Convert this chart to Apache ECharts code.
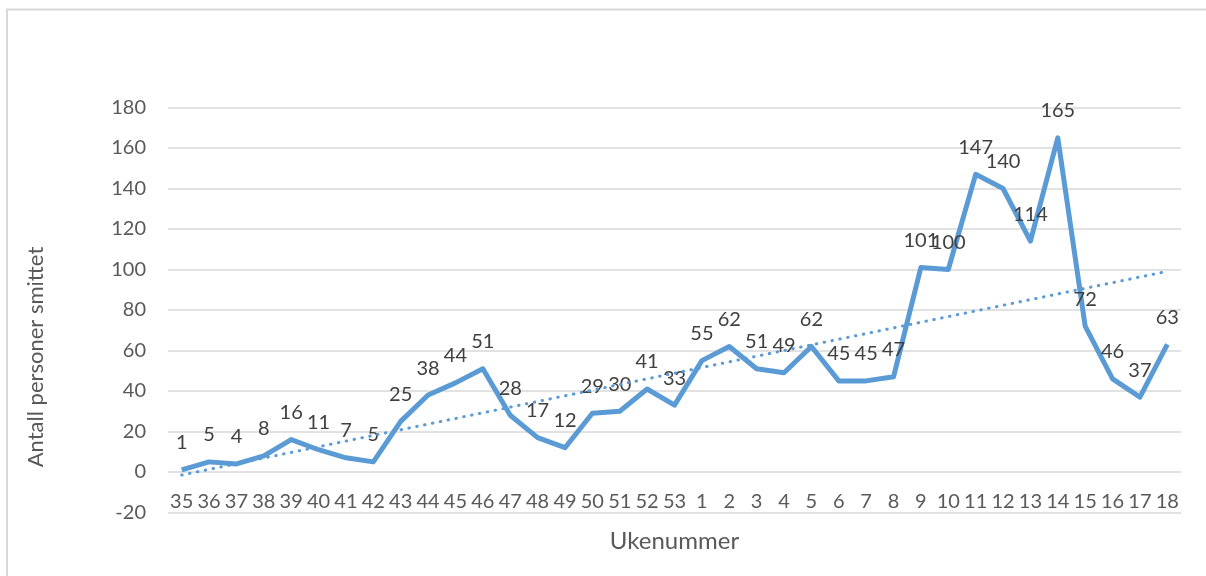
<!DOCTYPE html>
<html>
<head>
<meta charset="utf-8">
<script src="https://cdn.jsdelivr.net/npm/echarts@6/dist/echarts.min.js"></script>
<style>
  html, body { margin: 0; padding: 0; background: #fff; }
  #chart { width: 1206px; height: 576px; }
</style>
</head>
<body>
<div id="chart"></div>
<script>
// Week numbers (categories)
const weeks = ['35','36','37','38','39','40','41','42','43','44','45','46','47','48','49','50','51','52','53',
               '1','2','3','4','5','6','7','8','9','10','11','12','13','14','15','16','17','18'];
// Number of infected persons per week
const infected = [1,5,4,8,16,11,7,5,25,38,44,51,28,17,12,29,30,41,33,
                  55,62,51,49,62,45,45,47,101,100,147,140,114,165,72,46,37,63];
// Linear trendline end values (first and last week)
const trendStart = -1.5;
const trendEnd = 99.1;
// Y axis ticks
const yMin = -20, yMax = 180, yStep = 20;

const trend = weeks.map((w, i) => i === 0 ? trendStart : (i === weeks.length - 1 ? trendEnd : null));

const font = 'Lato, "Open Sans", sans-serif';
const chart = echarts.init(document.getElementById('chart'), null, { renderer: 'canvas' });
chart.setOption({
  animation: false,
  backgroundColor: '#ffffff',
  grid: { left: 168, right: 25, top: 107.5, bottom: 63.5, containLabel: false, outerBoundsMode: 'none' },
  graphic: [
    { type: 'rect', z: -10, silent: true,
      shape: { x: 7, y: 9.5, width: 1400, height: 800 },
      style: { fill: 'none', stroke: '#d9d9d9', lineWidth: 2 } },
    { type: 'text', x: 36, y: 357, rotation: Math.PI / 2, silent: true,
      style: { text: 'Antall personer smittet', font: '22px ' + font, fill: '#595959',
               align: 'center', verticalAlign: 'middle' } }
  ],
  xAxis: {
    type: 'category',
    data: weeks,
    boundaryGap: true,
    name: 'Ukenummer',
    nameLocation: 'middle',
    nameGap: 17,
    nameTextStyle: { fontFamily: font, fontSize: 24, color: '#595959' },
    axisLine: { show: false },
    axisTick: { show: false },
    axisLabel: { interval: 0, fontFamily: font, fontSize: 20, color: '#595959', margin: -21 },
    splitLine: { show: false }
  },
  yAxis: {
    type: 'value',
    min: yMin, max: yMax, interval: yStep,
    axisLine: { show: false },
    axisTick: { show: false },
    axisLabel: { fontFamily: font, fontSize: 20, color: '#595959', margin: 22 },
    splitLine: { lineStyle: { color: '#d9d9d9', width: 1.5 } }
  },
  series: [
    {
      type: 'line',
      data: infected,
      symbol: 'circle',
      symbolSize: 0,
      showSymbol: true,
      lineStyle: { color: '#5b9bd5', width: 5, join: 'round' },
      itemStyle: { color: '#5b9bd5' },
      label: { show: true, position: 'top', distance: 17, fontFamily: font, fontSize: 20, color: '#404040' },
      labelLayout: { hideOverlap: false },
      z: 2
    },
    {
      type: 'line',
      data: trend,
      connectNulls: true,
      symbol: 'none',
      lineStyle: { color: '#5b9bd5', width: 3, type: [0.5, 7.5], cap: 'round' },
      z: 3
    }
  ]
});
</script>
</body>
</html>
